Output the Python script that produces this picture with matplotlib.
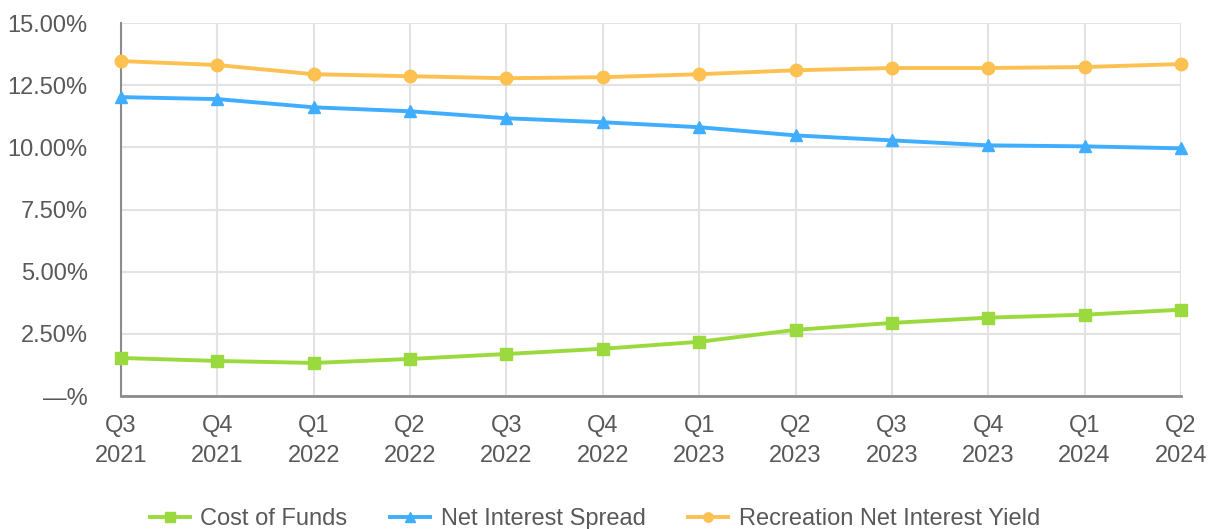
import matplotlib.pyplot as plt
import numpy as np
from matplotlib.ticker import FuncFormatter

plt.rcParams['font.family'] = ['Liberation Sans', 'DejaVu Sans']

quarters = ['Q3\n2021', 'Q4\n2021', 'Q1\n2022', 'Q2\n2022', 'Q3\n2022', 'Q4\n2022',
            'Q1\n2023', 'Q2\n2023', 'Q3\n2023', 'Q4\n2023', 'Q1\n2024', 'Q2\n2024']
cost_of_funds = [1.53, 1.41, 1.33, 1.49, 1.69, 1.90, 2.18, 2.66, 2.94, 3.15, 3.27, 3.47]
net_spread = [12.02, 11.94, 11.61, 11.45, 11.17, 11.01, 10.81, 10.48, 10.28, 10.08, 10.04, 9.96]
rec_yield = [13.47, 13.31, 12.94, 12.86, 12.78, 12.82, 12.94, 13.10, 13.19, 13.19, 13.23, 13.35]

txt = '#595959'
x = np.arange(len(quarters))

fig = plt.figure(figsize=(12.09, 5.29), dpi=100)
ax = fig.add_axes([0.1001, 0.2514, 0.8767, 0.7051])

ax.plot(x, cost_of_funds, color='#9BDA3F', lw=2.8, marker='s', ms=9, label='Cost of Funds',
        zorder=3, clip_on=False)
ax.plot(x, net_spread, color='#3FAEFF', lw=2.8, marker='^', ms=9, label='Net Interest Spread',
        zorder=3, clip_on=False)
ax.plot(x, rec_yield, color='#FDC152', lw=2.8, marker='o', ms=9, label='Recreation Net Interest Yield',
        zorder=3, clip_on=False)

ax.set_xlim(0, len(quarters) - 1)
ax.set_ylim(0, 15)
ax.set_yticks(np.arange(0, 15.01, 2.5))
ax.yaxis.set_major_formatter(FuncFormatter(lambda v, p: '—%' if v == 0 else f'{v:.2f}%'))
ax.set_xticks(x)
ax.set_xticklabels(quarters, linespacing=1.45)
ax.grid(True, color='#E3E3E3', lw=1.5, zorder=0)
ax.tick_params(length=0, labelsize=17, labelcolor=txt)
ax.tick_params(axis='y', pad=24)
ax.tick_params(axis='x', pad=14)

for s in ['top', 'right']:
    ax.spines[s].set_visible(False)
ax.spines['left'].set_color('#8C8C8C')
ax.spines['bottom'].set_color('#8C8C8C')
ax.spines['left'].set_linewidth(1.5)
ax.spines['bottom'].set_linewidth(2)

ax.legend(loc='center', bbox_to_anchor=(0.447, -0.33), ncol=3, frameon=False,
          fontsize=17, labelcolor=txt, handlelength=1.7, columnspacing=1.8,
          handletextpad=0.45, markerscale=0.75)

fig.savefig('out.png', dpi=100)
